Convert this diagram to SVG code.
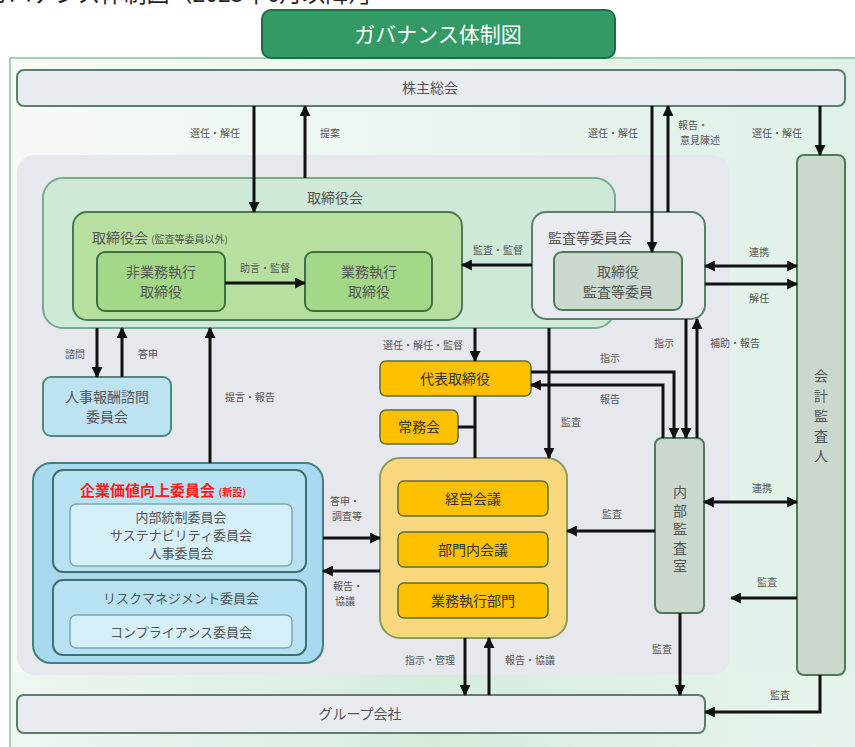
<svg xmlns="http://www.w3.org/2000/svg" width="855" height="747" viewBox="0 0 855 747">
<defs>
<linearGradient id="bg" x1="0" y1="0" x2="1" y2="0">
<stop offset="0" stop-color="#f6faf7"/>
<stop offset="1" stop-color="#dff1e6"/>
</linearGradient>
<linearGradient id="bgb" x1="0" y1="0" x2="1" y2="0">
<stop offset="0" stop-color="#eef6f0"/>
<stop offset="0.5" stop-color="#d5ecdd"/>
<stop offset="1" stop-color="#e8f5ec"/>
</linearGradient>
<marker id="ah" viewBox="0 0 10 10" refX="9" refY="5" markerWidth="11" markerHeight="11" markerUnits="userSpaceOnUse" orient="auto-start-reverse">
<path d="M0,0 L10,5 L0,10 z" fill="#111"/>
</marker>
<style>
text{font-family:"Noto Sans CJK JP","Noto Sans",sans-serif;}
.t{font-size:14px;fill:#555;text-anchor:middle;}
.tv{font-size:14px;fill:#555;writing-mode:vertical-rl;text-anchor:start;}
.tb{font-size:14px;fill:#333;text-anchor:middle;}
.lb{font-size:10px;fill:#555;text-anchor:middle;}
.ln{fill:none;stroke:#111;stroke-width:3;}
.ar{fill:none;stroke:#111;stroke-width:3;marker-end:url(#ah);}
.ar2{fill:none;stroke:#111;stroke-width:3;marker-end:url(#ah);marker-start:url(#ah);}
.gray{fill:#e9ebf0;stroke:#5b7f6b;stroke-width:2;}
.sage{fill:#cad8cd;stroke:#4e7a5c;stroke-width:2;}
.org{fill:#ffc000;stroke:#5b6e3b;stroke-width:1.5;}
</style>
</defs>
<text x="-14" y="2" style="font-size:23px;fill:#222;">ガバナンス体制図（2023年6月以降）」</text>
<rect x="10" y="58" width="850" height="695" fill="url(#bg)" stroke="#9fd3b1" stroke-width="2"/>
<rect x="11" y="672" width="844" height="75" fill="url(#bgb)"/>
<rect x="17" y="155" width="713" height="520" rx="18" fill="#e6e8ee"/>
<g id="title">
<rect x="262" y="10" width="353" height="48" rx="9" fill="#339a66" stroke="#1f6b45" stroke-width="2"/>
<text x="438" y="42" style="font-size:21px;fill:#fff;text-anchor:middle;">ガバナンス体制図</text>
</g>
<g id="kabunushi">
<rect x="17" y="70" width="828" height="36" rx="7" class="gray"/>
<text x="430" y="93" class="t">株主総会</text>
</g>
<g id="torishimariyakukai">
<rect x="43" y="178" width="572" height="150" rx="20" fill="#cfe9d9" stroke="#76ab8c" stroke-width="2"/>
<text x="335" y="203" class="t">取締役会</text>
</g>
<g id="torishimariyakukai-inner">
<rect x="73" y="212" width="389" height="108" rx="14" fill="#b7df9f" stroke="#4d7a52" stroke-width="2"/>
<text x="92" y="243" style="font-size:14px;fill:#555;">取締役会 <tspan style="font-size:10px;">(監査等委員以外)</tspan></text>
</g>
<g id="hi-gyomu">
<rect x="97" y="252" width="128" height="59" rx="8" fill="#a4d889" stroke="#3f6e43" stroke-width="2"/>
<text x="161" y="277" class="t">非業務執行</text>
<text x="161" y="297" class="t">取締役</text>
</g>
<g id="gyomu">
<rect x="305" y="252" width="127" height="59" rx="8" fill="#a4d889" stroke="#3f6e43" stroke-width="2"/>
<text x="369" y="277" class="t">業務執行</text>
<text x="369" y="297" class="t">取締役</text>
</g>
<g id="kansatou">
<rect x="532" y="212" width="173" height="107" rx="14" class="gray" stroke="#5c8a6c"/>
<text x="548" y="243" style="font-size:14px;fill:#555;">監査等委員会</text>
</g>
<g id="kansatou-iin">
<rect x="554" y="252" width="128" height="58" rx="8" class="sage"/>
<text x="618" y="277" class="t">取締役</text>
<text x="618" y="297" class="t">監査等委員</text>
</g>
<g id="kaikei">
<rect x="797" y="155" width="48" height="520" rx="7" class="sage"/>
<text x="821" y="369" class="tv" style="letter-spacing:6px;">会計監査人</text>
</g>
<g id="jinji-houshu">
<rect x="43" y="377" width="128" height="59" rx="8" fill="#bde3f3" stroke="#4f8a7a" stroke-width="2"/>
<text x="107" y="402" class="t">人事報酬諮問</text>
<text x="107" y="422" class="t">委員会</text>
</g>
<g id="kigyokachi">
<rect x="33" y="463" width="290" height="200" rx="18" fill="#a9d9ee" stroke="#3f8080" stroke-width="2"/>
<rect x="53" y="470" width="253" height="102" rx="10" fill="#b7e2f3" stroke="#3f7070" stroke-width="2"/>
<text x="163" y="496" style="font-size:15px;font-weight:bold;fill:#ff1a1a;text-anchor:middle;">企業価値向上委員会 <tspan style="font-size:10px;">(新設)</tspan></text>
<rect x="70" y="504" width="222" height="62" rx="6" fill="#d5eff9" stroke="#7aaab0" stroke-width="1.5"/>
<text x="181" y="522" class="t" style="font-size:13px;">内部統制委員会</text>
<text x="181" y="540" class="t" style="font-size:13px;">サステナビリティ委員会</text>
<text x="181" y="558" class="t" style="font-size:13px;">人事委員会</text>
<rect x="53" y="580" width="253" height="75" rx="10" fill="#b7e2f3" stroke="#3f7070" stroke-width="2"/>
<text x="181" y="603" class="t" style="font-size:13px;">リスクマネジメント委員会</text>
<rect x="70" y="615" width="222" height="33" rx="6" fill="#d5eff9" stroke="#7aaab0" stroke-width="1.5"/>
<text x="181" y="637" class="t" style="font-size:13px;">コンプライアンス委員会</text>
</g>
<g id="daihyo">
<rect x="380" y="361" width="151" height="35" rx="6" class="org"/>
<text x="455" y="384" class="tb">代表取締役</text>
</g>
<g id="jomukai">
<rect x="380" y="410" width="78" height="34" rx="6" class="org"/>
<text x="419" y="432" class="tb">常務会</text>
</g>
<g id="shikko">
<rect x="380" y="458" width="187" height="180" rx="20" fill="#f8d77f" stroke="#8c9b5a" stroke-width="2"/>
<rect x="398" y="481" width="150" height="35" rx="6" class="org"/>
<text x="473" y="504" class="tb">経営会議</text>
<rect x="398" y="532" width="150" height="35" rx="6" class="org"/>
<text x="473" y="555" class="tb">部門内会議</text>
<rect x="398" y="583" width="150" height="35" rx="6" class="org"/>
<text x="473" y="606" class="tb">業務執行部門</text>
</g>
<g id="naibu">
<rect x="655" y="438" width="49" height="175" rx="7" class="sage"/>
<text x="680" y="485" class="tv" style="letter-spacing:4.5px;">内部監査室</text>
</g>
<g id="group">
<rect x="17" y="695" width="688" height="38" rx="7" class="gray"/>
<text x="360" y="719" class="t">グループ会社</text>
</g>
<g id="connectors">
<path class="ar" d="M254,106 V212"/>
<path class="ar" d="M305,178 V106"/>
<path class="ar" d="M652,106 V252"/>
<path class="ar" d="M668,212 V106"/>
<path class="ar" d="M820,106 V155"/>
<path class="ar" d="M225,283 H305"/>
<path class="ar" d="M532,265 H462"/>
<path class="ar2" d="M705,266 H797"/>
<path class="ar" d="M705,284 H797"/>
<path class="ar" d="M97,328 V377"/>
<path class="ar" d="M122,377 V328"/>
<path class="ar" d="M210,463 V328"/>
<path class="ar" d="M475,328 V361"/>
<path class="ln" d="M475,396 V458 M458,427 H475"/>
<path class="ar" d="M549,328 V458"/>
<path class="ar" d="M531,372 H674 V438"/>
<path class="ar" d="M663,438 V385 H531"/>
<path class="ar" d="M686,319 V438"/>
<path class="ar" d="M697,438 V319"/>
<path class="ar" d="M655,531 H567"/>
<path class="ar2" d="M704,502 H797"/>
<path class="ar" d="M797,598 H731"/>
<path class="ar" d="M680,613 V695"/>
<path class="ar" d="M820,675 V712 H705"/>
<path class="ar" d="M465,638 V695"/>
<path class="ar" d="M489,695 V638"/>
<path class="ar" d="M323,538 H380"/>
<path class="ar" d="M380,571 H323"/>
<text x="215" y="137" class="lb">選任・解任</text>
<text x="330" y="137" class="lb">提案</text>
<text x="613" y="137" class="lb">選任・解任</text>
<text x="693" y="129" class="lb">報告・</text>
<text x="700" y="144" class="lb">意見陳述</text>
<text x="777" y="137" class="lb">選任・解任</text>
<text x="265" y="272" class="lb">助言・監督</text>
<text x="498" y="254" class="lb">監査・監督</text>
<text x="759" y="256" class="lb">連携</text>
<text x="759" y="302" class="lb">解任</text>
<text x="75" y="358" class="lb">諮問</text>
<text x="148" y="358" class="lb">答申</text>
<text x="250" y="401" class="lb">提言・報告</text>
<text x="423" y="349" class="lb">選任・解任・監督</text>
<text x="571" y="426" class="lb">監査</text>
<text x="610" y="362" class="lb">指示</text>
<text x="610" y="403" class="lb">報告</text>
<text x="664" y="347" class="lb">指示</text>
<text x="735" y="347" class="lb">補助・報告</text>
<text x="612" y="518" class="lb">監査</text>
<text x="762" y="492" class="lb">連携</text>
<text x="767" y="586" class="lb">監査</text>
<text x="662" y="653" class="lb">監査</text>
<text x="780" y="699" class="lb">監査</text>
<text x="430" y="664" class="lb">指示・管理</text>
<text x="530" y="664" class="lb">報告・協議</text>
<text x="345" y="505" class="lb">答申・</text>
<text x="347" y="520" class="lb">調査等</text>
<text x="348" y="590" class="lb">報告・</text>
<text x="345" y="605" class="lb">協議</text>
</g>
</svg>
